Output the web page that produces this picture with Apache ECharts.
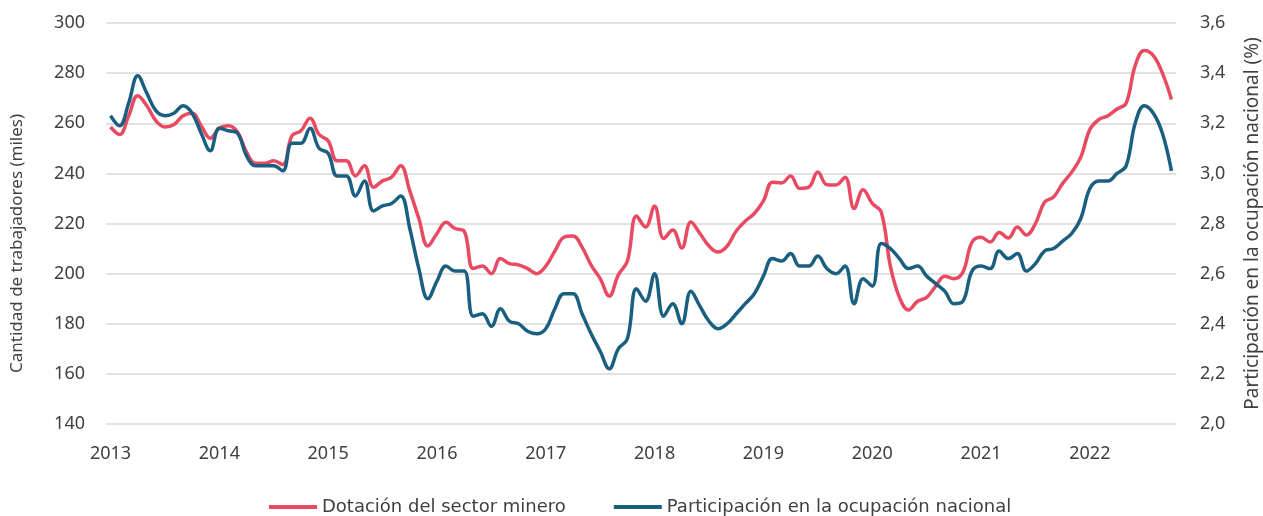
<!DOCTYPE html>
<html>
<head>
<meta charset="utf-8">
<title>Dotación del sector minero</title>
<script src="https://cdn.jsdelivr.net/npm/echarts@6/dist/echarts.min.js"></script>
<style>
  * { margin: 0; padding: 0; }
  html, body { width: 1263px; height: 516px; background: #fff; }
  #chart { width: 1263px; height: 516px; }
</style>
</head>
<body>
<div id="chart"></div>
<script>
// datos mensuales, ene-2013 a oct-2022
const years = ["2013", "2014", "2015", "2016", "2017", "2018", "2019", "2020", "2021", "2022"];
const monthsLastYear = 10;

// dotación del sector minero (miles de trabajadores), eje izquierdo
const dotacion = [
  258.5, 255.5, 263, 271, 267, 261, 258.5, 259.5, 263, 264, 259, 254,
  258, 259, 256.5, 248.5, 244, 244, 245, 243.5, 255, 257, 262, 255.5,
  253, 245, 245, 239, 243, 234.5, 237, 238.5, 243, 233, 222, 211,
  216, 220.5, 218, 217, 202, 203, 200, 206, 204, 203.5, 202, 200,
  203, 209, 214.5, 215, 210.6, 203.4, 198, 191, 199.5, 205, 223, 218.6,
  227, 214, 217.4, 210.2, 220.6, 216, 211, 208.6, 211, 217, 221, 224,
  229, 236.5, 236.2, 239, 234, 234.5, 240.5, 235.5, 235.4, 238.5, 226, 233.5,
  228, 224.5, 203, 190.5, 185.5, 189, 190.5, 195, 199, 198, 200.6, 212.5,
  214.5, 212.6, 216.4, 214.2, 218.6, 215.4, 220, 228.5, 230.6, 236, 240.5, 246.5,
  257.5, 261.5, 263, 265.7, 268, 283, 289, 287, 280, 269.5
];

// participación en la ocupación nacional (%), eje derecho
const participacion = [
  3.23, 3.19, 3.28, 3.39, 3.32, 3.25, 3.23, 3.24, 3.27, 3.24, 3.16, 3.09,
  3.18, 3.17, 3.16, 3.07, 3.03, 3.03, 3.03, 3.01, 3.12, 3.12, 3.18, 3.10,
  3.08, 2.99, 2.99, 2.91, 2.97, 2.85, 2.87, 2.88, 2.91, 2.78, 2.62, 2.50,
  2.57, 2.63, 2.61, 2.61, 2.43, 2.44, 2.39, 2.46, 2.41, 2.40, 2.37, 2.36,
  2.38, 2.46, 2.52, 2.52, 2.44, 2.36, 2.29, 2.22, 2.30, 2.34, 2.54, 2.49,
  2.60, 2.43, 2.48, 2.40, 2.53, 2.47, 2.41, 2.38, 2.40, 2.44, 2.48, 2.52,
  2.59, 2.66, 2.65, 2.68, 2.63, 2.63, 2.67, 2.62, 2.60, 2.63, 2.48, 2.58,
  2.55, 2.72, 2.70, 2.66, 2.62, 2.63, 2.59, 2.56, 2.53, 2.48, 2.49, 2.61,
  2.63, 2.62, 2.69, 2.66, 2.68, 2.61, 2.64, 2.69, 2.70, 2.73, 2.76, 2.82,
  2.94, 2.97, 2.97, 3.00, 3.03, 3.20, 3.27, 3.24, 3.16, 3.01
];

// categorías "aaaa-mm"
const meses = [];
years.forEach(function (y, k) {
  const n = k === years.length - 1 ? monthsLastYear : 12;
  for (let m = 1; m <= n; m++) {
    meses.push(y + "-" + (m < 10 ? "0" + m : m));
  }
});

const font = "'Noto Sans', 'Open Sans', sans-serif";
const textColor = "#404040";

const chart = echarts.init(document.getElementById("chart"));
chart.setOption({
  animation: false,
  textStyle: { fontFamily: font },
  color: ["#E84A62", "#1A5E80"],
  // posición fija del área de trazado (sin reajuste automático por los títulos)
  grid: { left: 106, right: 87, top: 23, bottom: 92, containLabel: false, outerBoundsMode: "none" },
  legend: {
    top: 493,
    left: 264,
    icon: "rect",
    itemWidth: 48,
    itemHeight: 4,
    itemGap: 48,
    textStyle: { fontSize: 18, color: textColor, fontFamily: "'DejaVu Sans', sans-serif" },
    data: ["Dotación del sector minero", "Participación en la ocupación nacional"]
  },
  xAxis: {
    type: "category",
    data: meses,
    boundaryGap: true,
    axisLine: { show: false },
    axisTick: { show: false },
    axisLabel: {
      color: textColor,
      fontSize: 18,
      margin: 21,
      interval: function (i) { return i % 12 === 0; },
      formatter: function (v) { return v.slice(0, 4); }
    }
  },
  yAxis: [
    {
      type: "value",
      min: 140,
      max: 300,
      interval: 20,
      name: "Cantidad de trabajadores (miles)",
      nameLocation: "middle",
      nameRotate: 90,
      nameGap: 80,
      nameTextStyle: { fontSize: 17, color: textColor, padding: [0, 40, 0, 0] },
      axisLine: { show: false },
      axisTick: { show: false },
      axisLabel: { color: textColor, fontSize: 18, margin: 21 },
      splitLine: { lineStyle: { color: "#D9D9D9", width: 1.5 } }
    },
    {
      type: "value",
      min: 2.0,
      max: 3.6,
      interval: 0.2,
      position: "right",
      name: "Participación en la ocupación nacional (%)",
      nameLocation: "middle",
      nameRotate: 90,
      nameGap: 67,
      nameTextStyle: { fontSize: 19, color: textColor },
      axisLine: { show: false },
      axisTick: { show: false },
      axisLabel: {
        color: textColor,
        fontSize: 18,
        margin: 24,
        formatter: function (v) { return v.toFixed(1).replace(".", ","); }
      },
      splitLine: { show: false }
    }
  ],
  series: [
    {
      name: "Dotación del sector minero",
      type: "line",
      yAxisIndex: 0,
      data: dotacion,
      smooth: 0.4,
      symbol: "none",
      lineStyle: { width: 3.5, color: "#E84A62" }
    },
    {
      name: "Participación en la ocupación nacional",
      type: "line",
      yAxisIndex: 1,
      data: participacion,
      smooth: 0.4,
      symbol: "none",
      lineStyle: { width: 3.5, color: "#1A5E80" }
    }
  ]
});
</script>
</body>
</html>
